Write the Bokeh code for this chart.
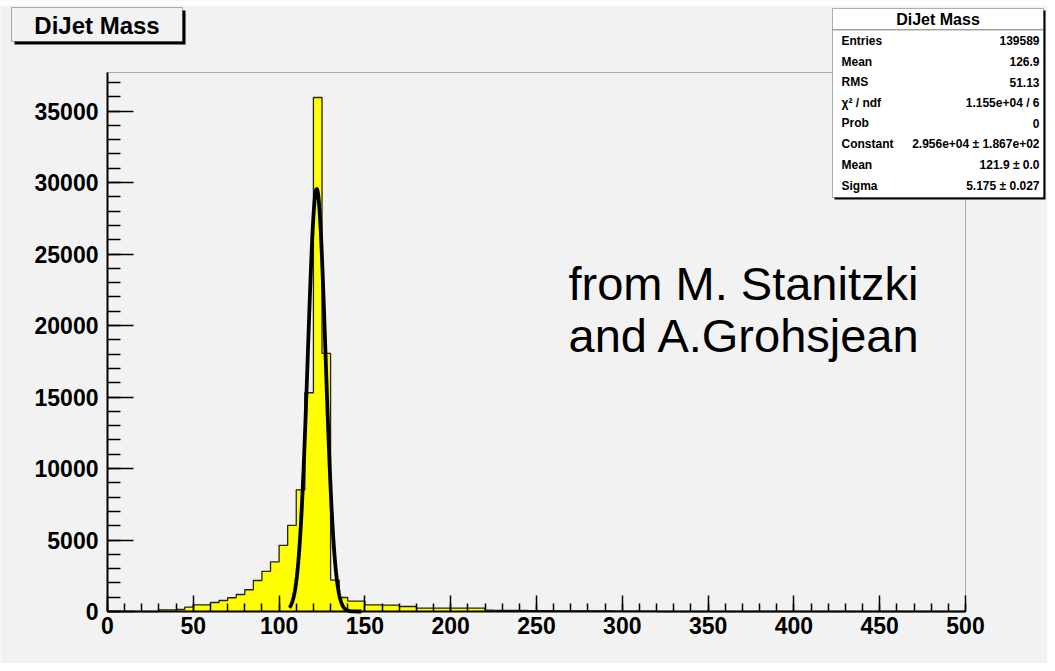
import numpy as np
from bokeh.plotting import figure
from bokeh.models import Range1d, Label, BoxAnnotation, FixedTicker, LinearAxis
from bokeh.embed import file_html
from bokeh.resources import INLINE

# ---------------- data ----------------
bin_low = list(range(0, 500, 5))
counts = [0, 0, 0, 0, 0, 0,
          110, 120, 140, 300, 470, 470, 630, 770, 960, 1190,
          1520, 2170, 2810, 3470, 4630, 6030, 8500, 15300, 35950, 18050,
          2200, 980, 720, 720, 470, 470, 440, 440, 350, 350,
          230, 230, 230, 230, 230, 230, 230, 230,
          90, 80, 80, 70, 70, 60, 60, 60, 50, 50,
          50, 40, 40, 40, 40, 30, 30, 30, 30, 30,
          0, 0, 0, 0, 0, 0, 0, 0, 0, 0, 0, 0,
          0, 0, 0, 0, 0, 0, 0, 0, 0, 0, 0, 0,
          0, 0, 0, 0, 0, 0, 0, 0, 0, 0, 0, 0]
x_ticks = [0, 50, 100, 150, 200, 250, 300, 350, 400, 450, 500]
y_ticks = [0, 5000, 10000, 15000, 20000, 25000, 30000, 35000]

fit_const = 2.956e4
fit_mean = 121.9
fit_sigma = 5.175
fit_lo, fit_hi = 106.0, 148.0

hist_title = "DiJet Mass"
stat_rows = [("Entries", "139589"), ("Mean", "126.9"), ("RMS", "51.13"),
             ("\u03c7\u00b2 / ndf", "1.155e+04 / 6"), ("Prob", "0"),
             ("Constant", "2.956e+04 \u00b1 1.867e+02"),
             ("Mean", "121.9 \u00b1 0.0"), ("Sigma", "5.175 \u00b1 0.027")]
note_lines = ["from M. Stanitzki", "and A.Grohsjean"]

# ---------------- layout (canvas pixels) ----------------
W, H = 1047, 663
FL, FR, FT, FB = 107, 965, 72, 611
XMAX, YMAX = 500, 37700
BG = "#f2f2f2"
FONT = "Liberation Sans"


def dx(px):
    return (px - FL) / (FR - FL) * XMAX


def dy(py):
    return (FB - py) / (FB - FT) * YMAX


p = figure(width=W, height=H, output_backend="svg", toolbar_location=None,
           x_range=Range1d(dx(0), dx(W)), y_range=Range1d(dy(H), dy(0)),
           x_axis_location=None, y_axis_location=None)
p.min_border = 0
p.min_border_left = 0
p.min_border_right = 0
p.min_border_top = 0
p.min_border_bottom = 0
p.background_fill_color = BG
p.border_fill_color = BG
p.outline_line_color = None
p.grid.visible = False

bin_high = [b + 5 for b in bin_low]
p.quad(left=bin_low, right=bin_high, bottom=0, top=counts,
       fill_color="#ffff00", line_color="#ffff00", line_width=0.5)
p.step(x=bin_low + [bin_high[-1]], y=counts + [counts[-1]], mode="after",
       line_color="#222222", line_width=1.3)

xf = np.linspace(fit_lo, fit_hi, 300)
yf = fit_const * np.exp(-0.5 * ((xf - fit_mean) / fit_sigma) ** 2)
p.line(xf, yf, line_color="black", line_width=3.8)

# white strip along the top edge
p.add_layout(BoxAnnotation(left=dx(0), right=dx(W), top=dy(0), bottom=dy(5),
                           fill_color="white", fill_alpha=1, line_color=None))

# frame box
p.add_layout(BoxAnnotation(left=0, right=XMAX, bottom=0, top=YMAX,
                           fill_alpha=0, line_color="black", line_width=1))

# axes
xaxis = LinearAxis(fixed_location=0, bounds=(0, XMAX),
                   ticker=FixedTicker(ticks=x_ticks, minor_ticks=list(range(0, 501, 10))))
yaxis = LinearAxis(fixed_location=0, bounds=(0, YMAX),
                   ticker=FixedTicker(ticks=y_ticks, minor_ticks=list(range(0, 37001, 1000))))
for ax in (xaxis, yaxis):
    ax.axis_line_width = 2
    ax.axis_line_color = "black"
    ax.major_tick_line_color = "black"
    ax.minor_tick_line_color = "black"
    ax.major_tick_line_width = 1.5
    ax.minor_tick_line_width = 1.5
    ax.major_tick_out = 0
    ax.minor_tick_out = 0
    ax.major_label_text_font = FONT
    ax.major_label_text_font_style = "bold"
    ax.major_label_text_font_size = "23px"
    ax.major_label_text_color = "black"
xaxis.major_tick_in = 16
xaxis.minor_tick_in = 8
yaxis.major_tick_in = 26
yaxis.minor_tick_in = 13
xaxis.major_label_standoff = 5
yaxis.major_label_standoff = 9
p.add_layout(xaxis, "below")
p.add_layout(yaxis, "left")

# title box (top-left)
p.add_layout(BoxAnnotation(left=dx(14), right=dx(185), top=dy(10), bottom=dy(44),
                           fill_color="black", fill_alpha=1, line_color=None))
p.add_layout(BoxAnnotation(left=dx(11), right=dx(182), top=dy(7), bottom=dy(41),
                           fill_color=BG, fill_alpha=1, line_color="black", line_width=1))
p.add_layout(Label(x=dx(96.5), y=dy(24.5), text=hist_title, text_align="center",
                   text_baseline="middle", text_font=FONT, text_font_style="bold",
                   text_font_size="24px", text_color="black"))

# stats box (top-right)
SL, SR, ST, SB = 832, 1043, 8, 197
p.add_layout(BoxAnnotation(left=dx(SL + 2), right=dx(SR + 2), top=dy(ST + 2), bottom=dy(SB + 2),
                           fill_color="black", fill_alpha=1, line_color=None))
p.add_layout(BoxAnnotation(left=dx(SL), right=dx(SR), top=dy(ST), bottom=dy(SB),
                           fill_color="white", fill_alpha=1, line_color="black", line_width=1))
p.add_layout(BoxAnnotation(left=dx(SL), right=dx(SR), top=dy(29.3), bottom=dy(29.3),
                           fill_alpha=0, line_color="black", line_width=1))
p.add_layout(Label(x=dx((SL + SR) / 2), y=dy(18.5), text=hist_title, text_align="center",
                   text_baseline="middle", text_font=FONT, text_font_style="bold",
                   text_font_size="16px", text_color="black"))
row_y = [40, 61, 81.5, 102, 122.5, 143.5, 164.5, 185]
for (lab, val), ry in zip(stat_rows, row_y):
    p.add_layout(Label(x=dx(SL + 9), y=dy(ry), text=lab, text_align="left",
                       text_baseline="middle", text_font=FONT, text_font_style="bold",
                       text_font_size="12px", text_color="black"))
    p.add_layout(Label(x=dx(SR - 4), y=dy(ry), text=val, text_align="right",
                       text_baseline="middle", text_font=FONT, text_font_style="bold",
                       text_font_size="12px", text_color="black"))

# annotation text
for line, by in zip(note_lines, [283, 335]):
    p.add_layout(Label(x=dx(568), y=dy(by), text=line, text_align="left",
                       text_baseline="alphabetic", text_font=FONT,
                       text_font_size="47px", text_color="black"))

open("out.html", "w").write(file_html(p, INLINE))
